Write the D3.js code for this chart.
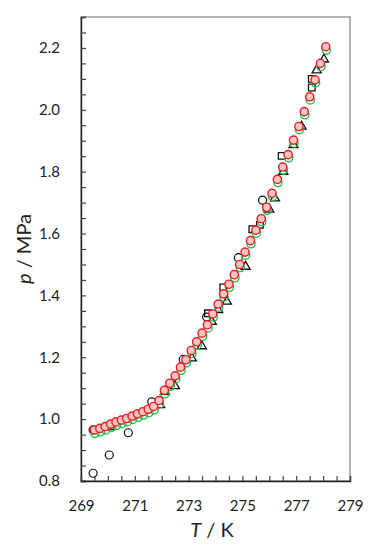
<!DOCTYPE html>
<html>
<head>
<meta charset="utf-8">
<script src="https://cdn.jsdelivr.net/npm/d3@7"></script>
<style>
  body { margin: 0; background: #fff; }
  text { font-family: Lato, "Open Sans", sans-serif; fill: #222; }
</style>
</head>
<body>
<div id="chart"></div>
<script>
// model curve (red, filled) - T / K and p / MPa
var redT = [269.5, 269.7, 269.9, 270.1, 270.3, 270.5, 270.7, 270.9, 271.1, 271.3, 271.5, 271.7, 271.9,
  272.1, 272.3, 272.5, 272.7, 272.9, 273.1, 273.3, 273.5, 273.7, 273.9, 274.1, 274.3, 274.5, 274.7, 274.9,
  275.1, 275.3, 275.5, 275.7, 275.9, 276.1, 276.3, 276.5, 276.7, 276.9, 277.1, 277.3, 277.5, 277.7, 277.9, 278.1]
var redP = [0.965, 0.970, 0.976, 0.984, 0.991, 0.997, 1.002, 1.010, 1.017, 1.024, 1.032, 1.041, 1.060,
  1.093, 1.116, 1.140, 1.168, 1.192, 1.222, 1.250, 1.278, 1.305, 1.340, 1.372, 1.405, 1.436, 1.467, 1.500,
  1.540, 1.577, 1.611, 1.648, 1.685, 1.730, 1.775, 1.815, 1.855, 1.902, 1.946, 1.994, 2.042, 2.097, 2.150, 2.204]

// second model (green, open)
var greenT = [269.52, 269.72, 269.92, 270.12, 270.32, 270.52, 270.72, 270.92, 271.12, 271.32, 271.52, 271.72, 271.92,
  272.12, 272.32, 272.52, 272.72, 272.92, 273.12, 273.32, 273.52, 273.72, 273.92, 274.12, 274.32, 274.52, 274.72, 274.92,
  275.12, 275.32, 275.52, 275.72, 275.92, 276.12, 276.32, 276.52, 276.72, 276.92, 277.12, 277.32, 277.52, 277.72, 277.92, 278.12]
var greenP = [0.954, 0.959, 0.965, 0.973, 0.980, 0.986, 0.991, 0.999, 1.006, 1.013, 1.021, 1.030, 1.049,
  1.082, 1.106, 1.130, 1.158, 1.182, 1.212, 1.240, 1.268, 1.295, 1.330, 1.362, 1.395, 1.426, 1.457, 1.490,
  1.530, 1.567, 1.601, 1.638, 1.675, 1.720, 1.765, 1.805, 1.845, 1.892, 1.936, 1.984, 2.032, 2.087, 2.140, 2.193]

// experimental, open circles
var circT = [269.45, 270.05, 270.76, 269.45, 271.63, 272.8, 273.67, 274.85, 275.75]
var circP = [0.825, 0.884, 0.956, 0.965, 1.056, 1.193, 1.330, 1.522, 1.708]

// experimental, triangles
var triT = [270.1, 271.94, 272.12, 272.49, 273.12, 273.49, 273.86, 274.1, 274.42, 275.12,
  276.0, 276.21, 276.52, 276.9, 277.2, 277.76, 278.03]
var triP = [0.975, 1.046, 1.089, 1.107, 1.197, 1.236, 1.315, 1.353, 1.380, 1.493,
  1.678, 1.714, 1.800, 1.886, 1.946, 2.128, 2.163]

// experimental, squares
var sqT = [273.72, 274.29, 275.37, 275.65, 276.46, 277.58, 277.58]
var sqP = [1.342, 1.426, 1.614, 1.628, 1.851, 2.100, 2.072]

// tick labels
var xLabels = [269, 271, 273, 275, 277, 279]
var yLabels = [0.8, 1.0, 1.2, 1.4, 1.6, 1.8, 2.0, 2.2]

var screen = {width: 373, height: 550}
var margin = {top: 17, right: 23, bottom: 69, left: 81}
var w = screen.width - margin.left - margin.right
var h = screen.height - margin.top - margin.bottom

var xScale = d3.scaleLinear().domain([269, 279]).range([margin.left, margin.left + w])
var yScale = d3.scaleLinear().domain([0.8, 2.3]).range([margin.top + h, margin.top])

var svg = d3.select("#chart").append("svg")
  .attr("width", screen.width)
  .attr("height", screen.height)

// frame
svg.append("rect")
  .attr("x", margin.left).attr("y", margin.top)
  .attr("width", w).attr("height", h)
  .style("fill", "none").style("stroke", "#7f7f7f").style("stroke-width", 1.2)

// axes with inward ticks
var fmt = d3.format(".1f")
var yAxis = d3.axisLeft(yScale)
  .tickValues(d3.range(0.8, 2.3001, 0.05))
  .tickSize(-5).tickPadding(21)
  .tickFormat(function(d) {
    return yLabels.some(function(v) { return Math.abs(v - d) < 1e-6 }) ? fmt(d) : ""
  })
var xAxis = d3.axisBottom(xScale)
  .tickValues(d3.range(269, 279.001, 0.5))
  .tickSize(-5).tickPadding(19)
  .tickFormat(function(d) {
    return xLabels.some(function(v) { return Math.abs(v - d) < 1e-6 }) ? d : ""
  })

var gy = svg.append("g")
  .attr("transform", "translate(" + margin.left + ",0)")
  .call(yAxis)
var gx = svg.append("g")
  .attr("transform", "translate(0," + (margin.top + h) + ")")
  .call(xAxis)

svg.selectAll(".domain").style("stroke", "#222").style("stroke-width", 1.4)
svg.selectAll(".tick line").style("stroke", "#444").style("stroke-width", 1.2)
svg.selectAll(".tick text").style("font-size", "15px").style("font-family", "Lato, 'Open Sans', sans-serif").style("fill", "#222")

// axis titles
var yTitle = svg.append("text")
  .attr("transform", "translate(31," + (margin.top + h / 2) + ") rotate(-90)")
  .attr("text-anchor", "middle")
  .style("font-size", "20px")
yTitle.append("tspan").style("font-style", "italic").text("p")
yTitle.append("tspan").text(" / MPa")

var xTitle = svg.append("text")
  .attr("x", 212).attr("y", 537)
  .attr("text-anchor", "middle")
  .style("font-size", "20px")
xTitle.append("tspan").style("font-style", "italic").text("T")
xTitle.append("tspan").text(" / K")

// experimental markers
var tri = d3.symbol().type(d3.symbolTriangle).size(36)
var sq = d3.symbol().type(d3.symbolSquare).size(44)

svg.append("g").selectAll("path")
  .data(d3.zip(triT, triP))
  .enter().append("path")
  .attr("d", tri)
  .attr("transform", function(d) { return "translate(" + xScale(d[0]) + "," + yScale(d[1]) + ")" })
  .style("fill", "none").style("stroke", "#111").style("stroke-width", 1.3)

svg.append("g").selectAll("path")
  .data(d3.zip(sqT, sqP))
  .enter().append("path")
  .attr("d", sq)
  .attr("transform", function(d) { return "translate(" + xScale(d[0]) + "," + yScale(d[1]) + ")" })
  .style("fill", "none").style("stroke", "#111").style("stroke-width", 1.3)

svg.append("g").selectAll("circle")
  .data(d3.zip(circT, circP))
  .enter().append("circle")
  .attr("cx", function(d) { return xScale(d[0]) })
  .attr("cy", function(d) { return yScale(d[1]) })
  .attr("r", 4)
  .style("fill", "none").style("stroke", "#111").style("stroke-width", 1.2)

// green model
svg.append("g").selectAll("circle")
  .data(d3.zip(greenT, greenP))
  .enter().append("circle")
  .attr("cx", function(d) { return xScale(d[0]) })
  .attr("cy", function(d) { return yScale(d[1]) })
  .attr("r", 4.1)
  .style("fill", "none").style("stroke", "#17c24a").style("stroke-width", 1.4)

// red model
svg.append("g").selectAll("circle")
  .data(d3.zip(redT, redP))
  .enter().append("circle")
  .attr("cx", function(d) { return xScale(d[0]) })
  .attr("cy", function(d) { return yScale(d[1]) })
  .attr("r", 4.1)
  .style("fill", "#f7c4c4").style("stroke", "#ec1c24").style("stroke-width", 1.4)
</script>
</body>
</html>
